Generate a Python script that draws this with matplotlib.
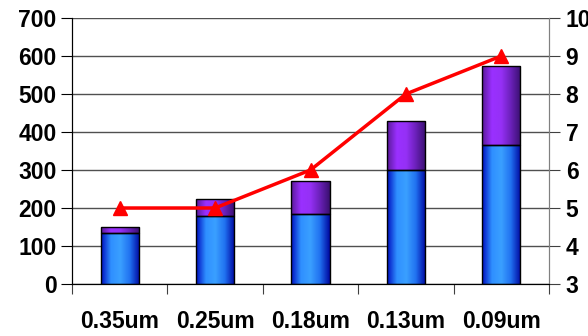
import numpy as np
import matplotlib.pyplot as plt
from matplotlib.colors import LinearSegmentedColormap
from matplotlib.patches import Rectangle

nodes = ['0.35um', '0.25um', '0.18um', '0.13um', '0.09um']
lower = [135, 180, 183, 300, 365]
upper = [15, 45, 87, 128, 210]
line_vals = [5, 5, 6, 8, 9]

plt.rcParams['font.family'] = ['Liberation Sans', 'DejaVu Sans']
plt.rcParams['font.weight'] = 'bold'

fig = plt.figure(figsize=(5.88, 3.36), dpi=100)
ax = fig.add_axes([72/588, 1 - 284/336, (549-72)/588, (284-18)/336])

x = np.arange(len(nodes))
w = 0.4

blue_cm = LinearSegmentedColormap.from_list('b', ['#0010c0', '#2f8fff', '#3aa0ff', '#2070f0', '#0008a0'])
purp_cm = LinearSegmentedColormap.from_list('p', ['#5a1a9a', '#9a30ff', '#9530f5', '#6a20b8', '#3a1070'])
grad = np.linspace(0, 1, 64).reshape(1, -1)

def grad_bar(xc, y0, h, cmap):
    im = ax.imshow(grad, cmap=cmap, aspect='auto', zorder=2,
                   extent=[xc - w/2, xc + w/2, y0, y0 + h])
    r = Rectangle((xc - w/2, y0), w, h, facecolor='none', edgecolor='black', lw=1, zorder=3)
    ax.add_patch(r)
    im.set_clip_path(r)

for i in x:
    grad_bar(i, 0, lower[i], blue_cm)
    grad_bar(i, lower[i], upper[i], purp_cm)

ax.set_xlim(-0.5, len(nodes) - 0.5)
ax.set_ylim(0, 700)
ax.set_yticks(range(0, 701, 100))
ax.yaxis.grid(True, color='#505050', lw=1)
ax.set_axisbelow(True)
ax.set_xticks(np.arange(-0.5, len(nodes)), minor=False)
ax.set_xticklabels([])
ax.set_xticks(x, minor=True)
ax.set_xticklabels(nodes, minor=True, fontsize=16.5, fontweight='bold')
ax.tick_params(axis='x', which='minor', length=0, pad=19)
ax.tick_params(axis='x', which='major', length=7, color='#404040')
ax.tick_params(axis='y', length=8, labelsize=16.5, pad=3)
ax.spines['top'].set_visible(False)
ax.spines['right'].set_color('#808080')

ax2 = ax.twinx()
ax2.plot(x, line_vals, color='red', lw=2.5, marker='^', ms=10, zorder=5)
ax2.set_ylim(3, 10)
ax2.set_yticks(range(3, 11))
ax2.tick_params(axis='y', length=8, labelsize=16.5, pad=4, color='#404040')
ax2.spines['top'].set_visible(False)
ax2.spines['right'].set_color('#808080')

fig.savefig('out.png', dpi=100)
